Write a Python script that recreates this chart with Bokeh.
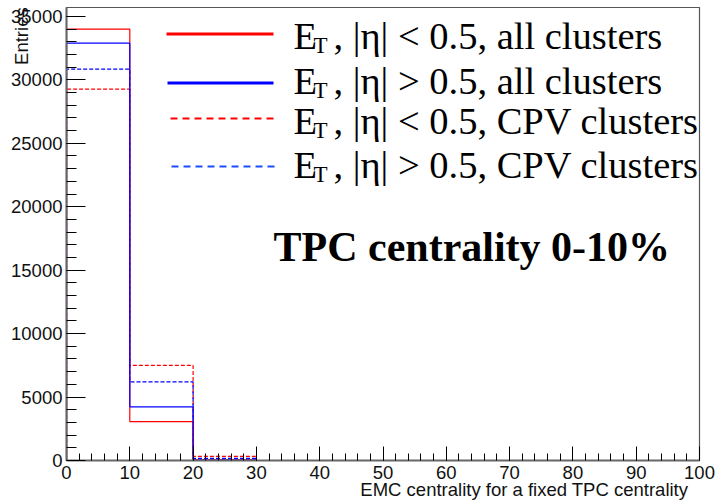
import numpy as np
from bokeh.plotting import figure
from bokeh.models import Label, SingleIntervalTicker, Range1d, Arrow
from bokeh.embed import file_html
from bokeh.resources import INLINE

# Histogram binning: EMC centrality, 10 bins of width 10
bin_edges = [0, 10, 20, 30, 40, 50, 60, 70, 80, 90, 100]

# Bin contents for each selection
et_central_all = [34000, 3070, 60, 0, 0, 0, 0, 0, 0, 0]
et_forward_all = [32900, 4230, 30, 0, 0, 0, 0, 0, 0, 0]
et_central_cpv = [29270, 7500, 330, 0, 0, 0, 0, 0, 0, 0]
et_forward_cpv = [30840, 6200, 170, 0, 0, 0, 0, 0, 0, 0]

legend_tails = [
    ", |\u03b7| < 0.5, all clusters",
    ", |\u03b7| > 0.5, all clusters",
    ", |\u03b7| < 0.5, CPV clusters",
    ", |\u03b7| > 0.5, CPV clusters",
]

x_title = "EMC centrality for a fixed TPC centrality"
y_title = "Entries"

W, H = 716, 502
FL, FR, FT, FB = 66, 699, 7, 460  # frame edges in page pixels
NBSP = "\u00a0"

ymax = max(max(et_central_all), max(et_forward_all),
           max(et_central_cpv), max(et_forward_cpv)) * 1.05

p = figure(width=W, height=H, output_backend="svg", toolbar_location=None,
           x_range=Range1d(0, 100), y_range=Range1d(0, ymax),
           min_border_left=FL, min_border_right=W - FR,
           min_border_top=FT, min_border_bottom=H - FB)
p.xgrid.visible = False
p.ygrid.visible = False
p.outline_line_color = "#555555"
p.outline_line_width = 1.2
p.background_fill_color = "white"
p.border_fill_color = "white"

for ax, major, minor, interval in ((p.xaxis[0], 14, 7, 10), (p.yaxis[0], 19, 10, 5000)):
    ax.ticker = SingleIntervalTicker(interval=interval, num_minor_ticks=5)
    ax.major_tick_in = major
    ax.major_tick_out = 0
    ax.minor_tick_in = minor
    ax.minor_tick_out = 0
    ax.major_tick_line_color = "black"
    ax.minor_tick_line_color = "black"
    ax.axis_line_color = "#666666"
    ax.axis_line_width = 2
    ax.major_label_text_font = "Liberation Sans"
    ax.major_label_text_font_size = "18.5px"
    ax.major_label_text_color = "#111111"
    ax.axis_label_text_font = "Liberation Sans"
    ax.axis_label_text_font_style = "normal"
    ax.axis_label_text_font_size = "18.5px"
    ax.axis_label_text_color = "#111111"
p.xaxis.major_label_standoff = 5
p.yaxis.major_label_standoff = 4

# Axis titles sit at the far end of each axis (ROOT style); the centred
# axis label is pushed there with leading no-break spaces.
xa = p.xaxis[0]
xa.axis_label = NBSP * 55 + x_title
xa.axis_label_standoff = -3

ya = p.yaxis[0]
ya.axis_label = NBSP * 77 + y_title
ya.axis_label_standoff = -24


def steps(edges, counts):
    xs, ys = [edges[0]], [0]
    for i, c in enumerate(counts):
        xs += [edges[i], edges[i + 1]]
        ys += [c, c]
    xs.append(edges[-1])
    ys.append(0)
    return np.array(xs, float), np.array(ys, float)


series = [
    (et_central_cpv, "#ff0000", "4 2"),
    (et_forward_cpv, "#0000ff", "4 2"),
    (et_central_all, "#ff0000", "solid"),
    (et_forward_all, "#0000ff", "solid"),
]
for counts, color, dash in series:
    xs, ys = steps(bin_edges, counts)
    p.line(xs, ys, line_color=color, line_width=1.2, line_dash=dash)


def fx(x):
    return x - FL


def fy(y):
    return FB - y


# Legend: line samples and texts with E_T subscripts
leg_lines = [
    ("#ff0000", "solid", 3, 166, 273, 33.5),
    ("#0000ff", "solid", 3, 167, 273, 82.5),
    ("#ff0000", "7 5", 2, 170, 275, 118),
    ("#1a4dff", "7 5", 2, 171, 277, 166),
]
baselines = [35, 80, 120, 164]
FS = 38.5
for (color, dash, lw, x0, x1, yy), base, tail in zip(leg_lines, baselines, legend_tails):
    p.add_layout(Arrow(x_start=fx(x0), y_start=fy(yy), x_end=fx(x1), y_end=fy(yy),
                       start_units="screen", end_units="screen", start=None, end=None,
                       line_color=color, line_width=lw, line_dash=dash))
    p.add_layout(Label(x=fx(293), y=fy(base), x_units="screen", y_units="screen",
                       text="E", text_font="Liberation Serif", text_font_size=f"{FS}px",
                       text_baseline="alphabetic", text_color="black"))
    p.add_layout(Label(x=fx(313), y=fy(base + 10), x_units="screen", y_units="screen",
                       text="T", text_font="Liberation Serif", text_font_size="23px",
                       text_baseline="alphabetic", text_color="black"))
    p.add_layout(Label(x=fx(333), y=fy(base), x_units="screen", y_units="screen",
                       text=tail, text_font="Liberation Serif", text_font_size=f"{FS}px",
                       text_baseline="alphabetic", text_color="black"))

p.add_layout(Label(x=fx(273), y=fy(246), x_units="screen", y_units="screen",
                   text="TPC centrality 0-10%", text_font="Liberation Serif",
                   text_font_style="bold", text_font_size="42px",
                   text_baseline="alphabetic", text_color="black"))

open("out.html", "w").write(file_html(p, INLINE))
